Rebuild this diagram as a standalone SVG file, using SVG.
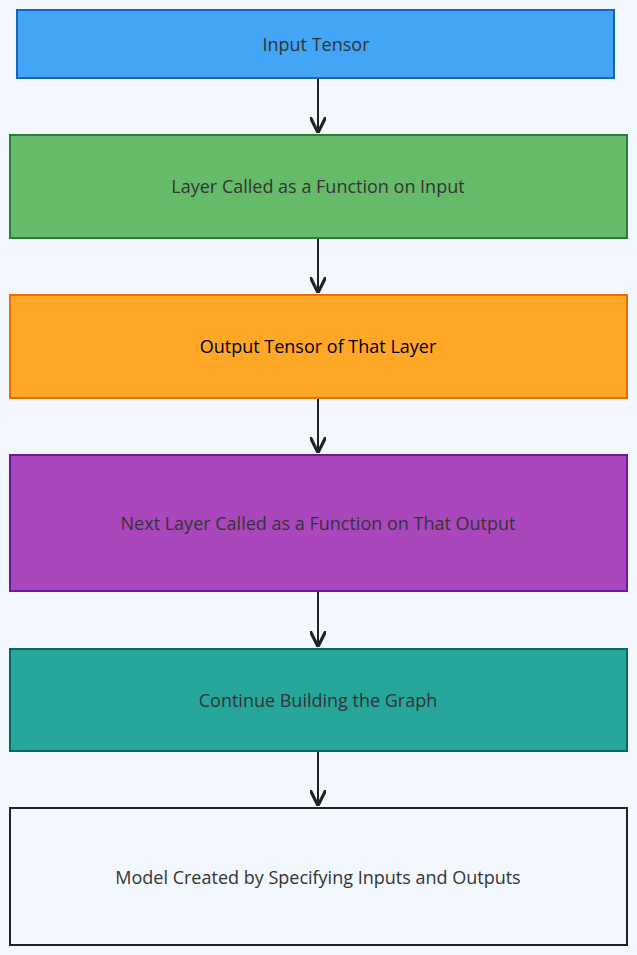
<svg xmlns="http://www.w3.org/2000/svg" width="637" height="955" viewBox="0 0 637 955">
<style>
.n{stroke-width:2}
.t{font-family:"Open Sans",sans-serif;font-size:18px;fill:#333;text-anchor:middle;dominant-baseline:central}
.c{stroke:#222;stroke-width:2;fill:none;marker-end:url(#a)}
</style>
<defs><marker id="a" viewBox="0 0 10 10" refX="9" refY="5" markerWidth="8" markerHeight="8" orient="auto"><path d="M0,0 L10,5 L0,10" fill="none" stroke="#222" stroke-width="2"/></marker></defs>
<rect width="637" height="955" fill="#f3f8fe"/>
<g id="connectors">
<path class="c" d="M318,79 L318,131"/>
<path class="c" d="M318,239 L318,291"/>
<path class="c" d="M318,399 L318,451"/>
<path class="c" d="M318,592 L318,645"/>
<path class="c" d="M318,752 L318,804"/>
</g>
<g id="n1"><rect class="n" x="17" y="10" width="597" height="68" fill="#42a5f5" stroke="#1565c0"/><text class="t" x="316" y="44">Input Tensor</text></g>
<g id="n2"><rect class="n" x="10" y="135" width="617" height="103" fill="#66bb6a" stroke="#2e7d32"/><text class="t" x="318" y="186">Layer Called as a Function on Input</text></g>
<g id="n3"><rect class="n" x="10" y="295" width="617" height="103" fill="#ffa726" stroke="#ef6c00"/><text class="t" x="318" y="346" style="fill:#000">Output Tensor of That Layer</text></g>
<g id="n4"><rect class="n" x="10" y="455" width="617" height="136" fill="#ab47bc" stroke="#6a1b9a"/><text class="t" x="318" y="523">Next Layer Called as a Function on That Output</text></g>
<g id="n5"><rect class="n" x="10" y="649" width="617" height="102" fill="#26a69a" stroke="#00695c"/><text class="t" x="318" y="700">Continue Building the Graph</text></g>
<g id="n6"><rect class="n" x="10" y="808" width="617" height="137" fill="#f3f8fe" stroke="#222"/><text class="t" x="318" y="877">Model Created by Specifying Inputs and Outputs</text></g>
</svg>
